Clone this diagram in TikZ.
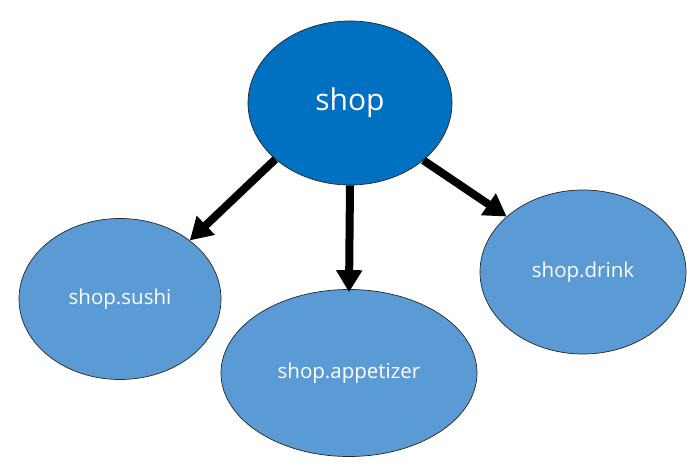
\documentclass[tikz,border=0pt]{standalone}
\usepackage{fontspec}
\setmainfont{Open Sans}
\usetikzlibrary{arrows.meta,shapes.geometric}
\definecolor{darkblue}{HTML}{0070C0}
\definecolor{lightblue}{HTML}{5B9BD5}
\tikzset{
  bubble/.style={ellipse,draw=black!85,line width=0.7pt,fill=lightblue,text=white,inner sep=0pt,font=\fontsize{20.5}{24}\selectfont},
  bigbubble/.style={bubble,fill=darkblue,font=\fontsize{30}{36}\selectfont},
  conn/.style={line width=8pt,-{Triangle[length=22pt,width=25pt]}}
}
\begin{document}
\begin{tikzpicture}[x=1pt,y=-1pt]
\useasboundingbox (0,0) rectangle (699,470);
\node[bigbubble,minimum width=204pt,minimum height=164pt] (shop) at (350,103) {shop};
\node[bubble,minimum width=202pt,minimum height=161pt] (sushi) at (120,299) {shop.sushi};
\node[bubble,minimum width=256pt,minimum height=167pt] (app) at (349,373) {shop.appetizer};
\node[bubble,minimum width=206pt,minimum height=164pt] (drink) at (583,272) {shop.drink};
\draw[conn] (shop.217) -- (sushi.40);
\draw[conn] (shop.south) -- ([yshift=-3pt]app.north);
\draw[conn] (shop.322) -- (drink.144);
\end{tikzpicture}
\end{document}
